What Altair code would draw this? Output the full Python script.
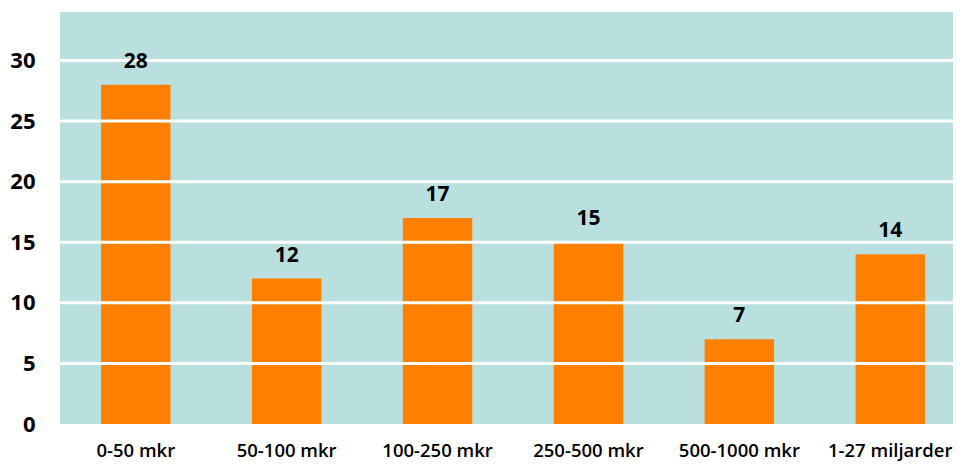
import altair as alt
import pandas as pd

categories = ["0-50 mkr", "50-100 mkr", "100-250 mkr", "250-500 mkr", "500-1000 mkr", "1-27 miljarder"]
values = [28, 12, 17, 15, 7, 14]
y_ticks = [0, 5, 10, 15, 20, 25, 30]
grid_values = [5, 10, 15, 20, 25, 30]

df = pd.DataFrame({"kategori": categories, "antal": values})
grid_df = pd.DataFrame({"y": grid_values})

FONT = "Open Sans"
x_scale = alt.Scale(paddingInner=0.54, paddingOuter=0.272, range=[0, 906])
x_axis = alt.Axis(
    labelAngle=0, domain=False, ticks=False, grid=False,
    labelFont=FONT, labelFontWeight=600, labelFontSize=18.5,
    labelColor="#000000", labelPadding=17,
)
y_scale = alt.Scale(domain=[0, 34], nice=False)
y_axis = alt.Axis(
    values=y_ticks, grid=False, domain=False, ticks=False,
    labelFont=FONT, labelFontSize=22, labelFontWeight="bold",
    labelColor="#000000", labelPadding=25,
)

bars = alt.Chart(df).mark_bar(color="#FF7F00").encode(
    x=alt.X("kategori:N", sort=categories, title=None, scale=x_scale, axis=x_axis),
    y=alt.Y("antal:Q", scale=y_scale, title=None, axis=y_axis),
)

grid = alt.Chart(grid_df).mark_rule(color="white", strokeWidth=3).encode(
    y=alt.Y("y:Q", scale=y_scale, title=None, axis=y_axis)
)

text = alt.Chart(df).mark_text(
    dy=-13, baseline="bottom", font=FONT, fontSize=21, fontWeight="bold", color="#000000"
).encode(
    x=alt.X("kategori:N", sort=categories, title=None, scale=x_scale, axis=x_axis),
    y=alt.Y("antal:Q", scale=y_scale, title=None, axis=y_axis),
    text="antal:Q",
)

chart = (
    alt.layer(bars, grid, text)
    .properties(
        width=893,
        height=412,
        padding={"left": 52, "top": 4, "right": 0, "bottom": 40},
        autosize=alt.AutoSizeParams(type="none"),
    )
    .configure_view(fill="#B9E0DF", stroke=None)
)

chart.save("out.html", embed_options={"renderer": "svg", "actions": False})
